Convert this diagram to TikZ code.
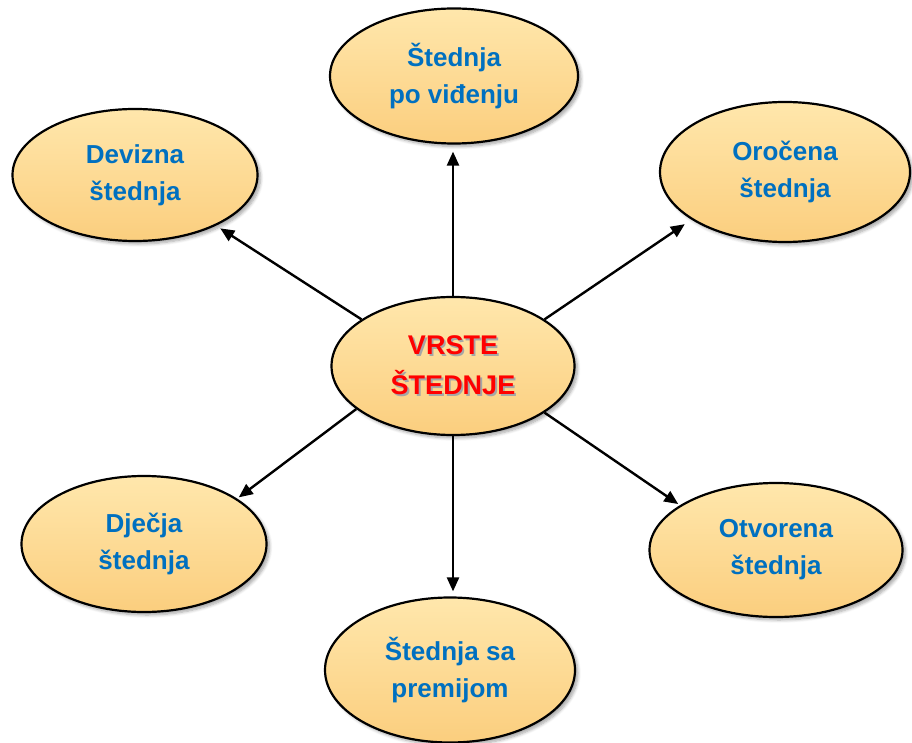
\documentclass[tikz,border=0pt]{standalone}
\usepackage{fontspec}
\setmainfont{Liberation Sans}
\usetikzlibrary{shapes.geometric,arrows.meta,shadows.blur}
\definecolor{txtblue}{RGB}{0,112,192}
\definecolor{filltop}{RGB}{255,231,172}
\definecolor{fillbot}{RGB}{251,206,126}
\newcommand\shtxt[1]{\makebox[0pt][l]{\hspace{1.8pt}\raisebox{-1.8pt}{\textcolor{black!35}{#1}}}#1}
\tikzset{
  bubble/.style={ellipse, draw=black, line width=2.2pt, inner sep=0pt,
    top color=filltop, bottom color=fillbot,
    blur shadow={shadow xshift=3pt, shadow yshift=-3pt, shadow blur radius=3pt, shadow blur steps=6, shadow opacity=35},
    align=center, font=\fontsize{26}{37}\selectfont\bfseries, text=txtblue},
  mainbubble/.style={bubble, font=\fontsize{27}{40}\selectfont\bfseries, text=red},
  link/.style={line width=2.4pt, -{Triangle[length=14pt,width=12pt]}}
}
\begin{document}
\begin{tikzpicture}[x=1pt,y=-1pt]
\useasboundingbox (0,0) rectangle (912,743);
\node[mainbubble, minimum width=243pt, minimum height=138pt] (c) at (453,366) {\shtxt{VRSTE}\\\shtxt{ŠTEDNJE}};
\node[bubble, minimum width=248pt, minimum height=135pt] (top) at (454,76) {Štednja\\po viđenju};
\node[bubble, minimum width=245pt, minimum height=132pt] (dev) at (135,175) {Devizna\\štednja};
\node[bubble, minimum width=250pt, minimum height=140pt] (oro) at (785,172) {Oročena\\štednja};
\node[bubble, minimum width=245pt, minimum height=136pt] (dje) at (144,544) {Dječja\\štednja};
\node[bubble, minimum width=253pt, minimum height=134pt] (otv) at (776,550) {Otvorena\\štednja};
\node[bubble, minimum width=250pt, minimum height=145pt] (prem) at (450,670) {Štednja sa\\premijom};
\draw[link, shorten >=7pt] (c.90) -- (c.90 |- top.south);
\draw[link, shorten >=5pt] (c.153.7) -- (dev.-32.8);
\draw[link, shorten >=8pt] (c.27.8) -- (oro.207);
\draw[link, shorten >=2pt] (c.204.7) -- (dje.26);
\draw[link, shorten >=5pt] (c.-90) -- (c.-90 |- prem.north);
\draw[link, shorten >=2pt] (c.-27) -- (otv.155);
\end{tikzpicture}
\end{document}
